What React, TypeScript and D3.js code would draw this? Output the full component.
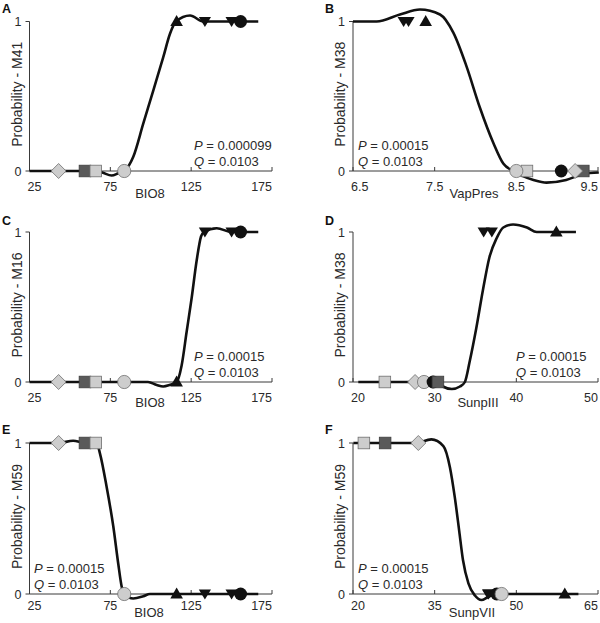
import React from 'react';
import * as d3 from 'd3';

// ---------- data ----------
// population marker shapes (same population order in every panel)
const shapes = ['diamond', 'darkSquare', 'lightSquare', 'grayCircle', 'upTriangle', 'downTriangle', 'downTriangle', 'blackCircle'];

// environmental values of each population
const bio8Values = [43, 59.3, 66, 83.6, 116, 133.5, 150, 155.6];
const vapPresValues = [9.22, 9.32, 8.63, 8.5, 7.39, 7.12, 7.18, 9.05];
const sunpIIIValues = [27.6, 30.4, 23.9, 28.7, 44.9, 36.0, 37.0, 29.8];
const sunpVIIValues = [32.0, 25.9, 22.0, 47.3, 58.9, 44.8, 44.9, 46.4];

// marker presence (0/1) of each population
const presenceA = [0, 0, 0, 0, 1, 1, 1, 1];
const presenceB = [0, 0, 0, 0, 1, 1, 1, 0];
const presenceC = [0, 0, 0, 0, 0, 1, 1, 1];
const presenceD = [0, 0, 0, 0, 1, 1, 1, 0];
const presenceE = [1, 1, 1, 0, 0, 0, 0, 0];
const presenceF = [1, 1, 1, 0, 0, 0, 0, 0];

// fitted probability curves
const curveAx = [25, 66, 70, 75.8, 80, 83.6, 89.2, 95.4, 101.6, 107.7, 111.9, 115.6, 124.3, 132.5, 166.5];
const curveAy = [0, 0, -0.01, -0.03, -0.015, 0, 0.095, 0.318, 0.54, 0.76, 0.918, 1.0, 1.04, 1.0, 1.0];
const curveBx = [6.5, 6.79, 7.075, 7.32, 7.565, 7.73, 7.89, 8.05, 8.22, 8.34, 8.46, 8.71, 8.87, 9.11, 9.32, 9.51];
const curveBy = [1, 1, 1.047, 1.08, 1.047, 0.924, 0.7, 0.43, 0.186, 0.05, 0, -0.06, -0.078, -0.06, -0.02, -0.01];
const curveCx = [25, 98.3, 103.7, 107.7, 111.6, 116, 119.1, 122.2, 125.3, 128.4, 131.1, 132.9, 140.8, 150, 166.5];
const curveCy = [0, 0, -0.02, -0.03, -0.02, 0, 0.11, 0.335, 0.56, 0.81, 0.97, 1.0, 1.025, 1.0, 1.0];
const curveDx = [20.65, 30.4, 31.0, 32.1, 33.1, 33.7, 34.3, 35.1, 35.9, 36.7, 37.6, 38.4, 39.6, 41.3, 42.5, 47.3];
const curveDy = [0, 0, -0.03, -0.047, -0.03, 0, 0.14, 0.36, 0.61, 0.83, 0.96, 1.03, 1.05, 1.03, 1.0, 1.0];
const curveEx = [25, 43, 52, 59.3, 66.5, 68.6, 72.7, 76.8, 79.9, 82.0, 83.6, 89.2, 95.4, 99.5, 166.5];
const curveEy = [1, 1, 1.015, 1, 1, 0.93, 0.71, 0.45, 0.2, 0.05, 0, -0.03, -0.015, 0, 0];
const curveFx = [20.06, 31.5, 34.4, 36.6, 37.8, 38.7, 39.5, 40.2, 41.2, 42.4, 43.6, 44.8, 46.4, 61.4];
const curveFy = [1, 1, 1.024, 0.98, 0.84, 0.64, 0.42, 0.225, 0.07, -0.01, -0.04, -0.02, 0, 0];

// axis ticks and labels
const bio8Ticks = [25, 75, 125, 175];
const vapPresTicks = [6.5, 7.5, 8.5, 9.5];
const sunpIIITicks = [20, 30, 40, 50];
const sunpVIITicks = [20, 35, 50, 65];
const probTicks = [0, 1];

const panelLetters = ['A', 'B', 'C', 'D', 'E', 'F'];
const xTitles = ['BIO8', 'VapPres', 'BIO8', 'SunpIII', 'BIO8', 'SunpVII'];
const yTitles = ['Probability - M41', 'Probability - M38', 'Probability - M16', 'Probability - M38', 'Probability - M59', 'Probability - M59'];
const pValues = ['0.000099', '0.00015', '0.00015', '0.00015', '0.00015', '0.00015'];
const qValues = ['0.0103', '0.0103', '0.0103', '0.0103', '0.0103', '0.0103'];

// ---------- layout / style ----------
const W = 600;
const H = 623;
const colX = [{ x0: 29.5, x1: 272 }, { x0: 353, x1: 598 }];
const rowY = [
  { y1: 21.5, y0: 171, tickDy: 20, titleDy: 27, letterY: 13 },
  { y1: 232, y0: 382, tickDy: 20, titleDy: 25, letterY: 224.5 },
  { y1: 443, y0: 594, tickDy: 15.5, titleDy: 23, letterY: 433.5 },
];
const FONT = "'Liberation Sans', Arial, Helvetica, sans-serif";
const TEXT = '#2a2a2a';
const AXIS = '#3a3a3a';

type PanelCfg = {
  col: number; row: number;
  xs: number[]; pres: number[];
  cx: number[]; cy: number[];
  ticks: number[]; tickFmt: (v: number) => string;
  annotRight: boolean; xTitleX: number; order: number[];
};

const fmt0 = (v: number) => String(v);
const fmt1 = (v: number) => v.toFixed(1);

const panels: PanelCfg[] = [
  { col: 0, row: 0, xs: bio8Values, pres: presenceA, cx: curveAx, cy: curveAy, ticks: bio8Ticks, tickFmt: fmt0, annotRight: true, xTitleX: 150, order: [0, 1, 2, 3, 4, 5, 6, 7] },
  { col: 1, row: 0, xs: vapPresValues, pres: presenceB, cx: curveBx, cy: curveBy, ticks: vapPresTicks, tickFmt: fmt1, annotRight: false, xTitleX: 474, order: [2, 3, 7, 1, 0, 4, 5, 6] },
  { col: 0, row: 1, xs: bio8Values, pres: presenceC, cx: curveCx, cy: curveCy, ticks: bio8Ticks, tickFmt: fmt0, annotRight: true, xTitleX: 150, order: [0, 1, 2, 3, 4, 5, 6, 7] },
  { col: 1, row: 1, xs: sunpIIIValues, pres: presenceD, cx: curveDx, cy: curveDy, ticks: sunpIIITicks, tickFmt: fmt0, annotRight: true, xTitleX: 478, order: [2, 0, 3, 7, 1, 4, 5, 6] },
  { col: 0, row: 2, xs: bio8Values, pres: presenceE, cx: curveEx, cy: curveEy, ticks: bio8Ticks, tickFmt: fmt0, annotRight: false, xTitleX: 149, order: [0, 1, 2, 3, 4, 5, 6, 7] },
  { col: 1, row: 2, xs: sunpVIIValues, pres: presenceF, cx: curveFx, cy: curveFy, ticks: sunpVIITicks, tickFmt: fmt0, annotRight: false, xTitleX: 472, order: [2, 1, 0, 5, 6, 7, 3, 4] },
];

function Marker({ shape, x, y }: { shape: string; x: number; y: number }) {
  const light = '#cdcdcd';
  const lightStroke = '#6e6e6e';
  switch (shape) {
    case 'diamond': {
      const r = 7.5;
      return <path d={`M${x},${y - r}L${x + r},${y}L${x},${y + r}L${x - r},${y}Z`} fill={light} stroke={lightStroke} strokeWidth={0.8} />;
    }
    case 'darkSquare':
      return <rect x={x - 5.8} y={y - 5.8} width={11.6} height={11.6} fill="#5a5a5a" stroke="#3c3c3c" strokeWidth={0.8} />;
    case 'lightSquare':
      return <rect x={x - 5.8} y={y - 5.8} width={11.6} height={11.6} fill={light} stroke={lightStroke} strokeWidth={0.8} />;
    case 'grayCircle':
      return <circle cx={x} cy={y} r={6.6} fill={light} stroke={lightStroke} strokeWidth={0.8} />;
    case 'blackCircle':
      return <circle cx={x} cy={y} r={6.4} fill="#111" />;
    case 'upTriangle':
      return <path d={`M${x},${y - 6.5}L${x + 6.3},${y + 4.6}L${x - 6.3},${y + 4.6}Z`} fill="#111" />;
    case 'downTriangle':
      return <path d={`M${x - 6.1},${y - 4.6}L${x + 6.1},${y - 4.6}L${x},${y + 5.6}Z`} fill="#111" />;
    default:
      return null;
  }
}

function Panel({ cfg, idx }: { cfg: PanelCfg; idx: number }) {
  const { x0, x1 } = colX[cfg.col];
  const { y0, y1, tickDy, titleDy, letterY } = rowY[cfg.row];
  const xScale = d3.scaleLinear().domain([cfg.ticks[0], cfg.ticks[cfg.ticks.length - 1]]).range([x0, x1]);
  const yScale = d3.scaleLinear().domain([0, 1]).range([y0, y1]);
  const pts: [number, number][] = cfg.cx.map((v, i) => [v, cfg.cy[i]]);
  const line = d3.line<[number, number]>()
    .x((d) => xScale(d[0]))
    .y((d) => yScale(d[1]))
    .curve(d3.curveMonotoneX);
  const annotX = cfg.annotRight ? (cfg.col === 0 ? 194 : 516) : (cfg.col === 0 ? 34 : 358);
  const nT = cfg.ticks.length;
  return (
    <g>
      <text x={cfg.col === 0 ? 2 : 325} y={letterY} fontFamily={FONT} fontWeight="bold" fontSize={12.5} fill="#111">
        {panelLetters[idx]}
      </text>
      {/* y axis */}
      <line x1={x0} x2={x0} y1={y1} y2={y0} stroke={AXIS} strokeWidth={1} />
      {probTicks.map((t) => (
        <g key={t}>
          <line x1={x0 - 4} x2={x0} y1={yScale(t)} y2={yScale(t)} stroke={AXIS} strokeWidth={1} />
          <text x={x0 - 8} y={yScale(t) + 4.5} textAnchor="end" fontFamily={FONT} fontSize={12.5} fill={TEXT}>{t}</text>
        </g>
      ))}
      <text transform={`translate(${x0 - 8},${(y0 + y1) / 2 - 2}) rotate(-90)`} textAnchor="middle" fontFamily={FONT} fontSize={14} fill={TEXT}>
        {yTitles[idx]}
      </text>
      {/* x axis */}
      <line x1={x0} x2={x1} y1={y0} y2={y0} stroke={AXIS} strokeWidth={1} />
      {cfg.ticks.map((t, i) => (
        <g key={t}>
          <line x1={xScale(t)} x2={xScale(t)} y1={y0 - 4} y2={y0} stroke={AXIS} strokeWidth={1} />
          <text
            x={xScale(t) + (i === 0 ? -2 : 0)}
            y={y0 + tickDy}
            textAnchor={i === 0 ? 'start' : i === nT - 1 ? 'end' : 'middle'}
            fontFamily={FONT} fontSize={12.5} fill={TEXT}
          >
            {cfg.tickFmt(t)}
          </text>
        </g>
      ))}
      <text x={cfg.xTitleX} y={y0 + titleDy} textAnchor="middle" fontFamily={FONT} fontSize={13} fill={TEXT}>
        {xTitles[idx]}
      </text>
      {/* curve */}
      <path d={line(pts) || ''} fill="none" stroke="#111" strokeWidth={2.6} strokeLinejoin="round" />
      {/* markers */}
      {cfg.order.map((k) => (
        <Marker key={k} shape={shapes[k]} x={xScale(cfg.xs[k])} y={yScale(cfg.pres[k])} />
      ))}
      {/* statistics */}
      <text x={annotX} y={y0 - 21} fontFamily={FONT} fontSize={13} fill={TEXT}>
        <tspan fontStyle="italic">P</tspan> = {pValues[idx]}
      </text>
      <text x={annotX} y={y0 - 5} fontFamily={FONT} fontSize={13} fill={TEXT}>
        <tspan fontStyle="italic">Q</tspan> = {qValues[idx]}
      </text>
    </g>
  );
}

export default function App() {
  return (
    <svg width={W} height={H} viewBox={`0 0 ${W} ${H}`} style={{ position: 'absolute', left: 0, top: 0, background: '#fff' }}>
      <rect width={W} height={H} fill="#fff" />
      {panels.map((p, i) => (
        <Panel key={i} cfg={p} idx={i} />
      ))}
    </svg>
  );
}
